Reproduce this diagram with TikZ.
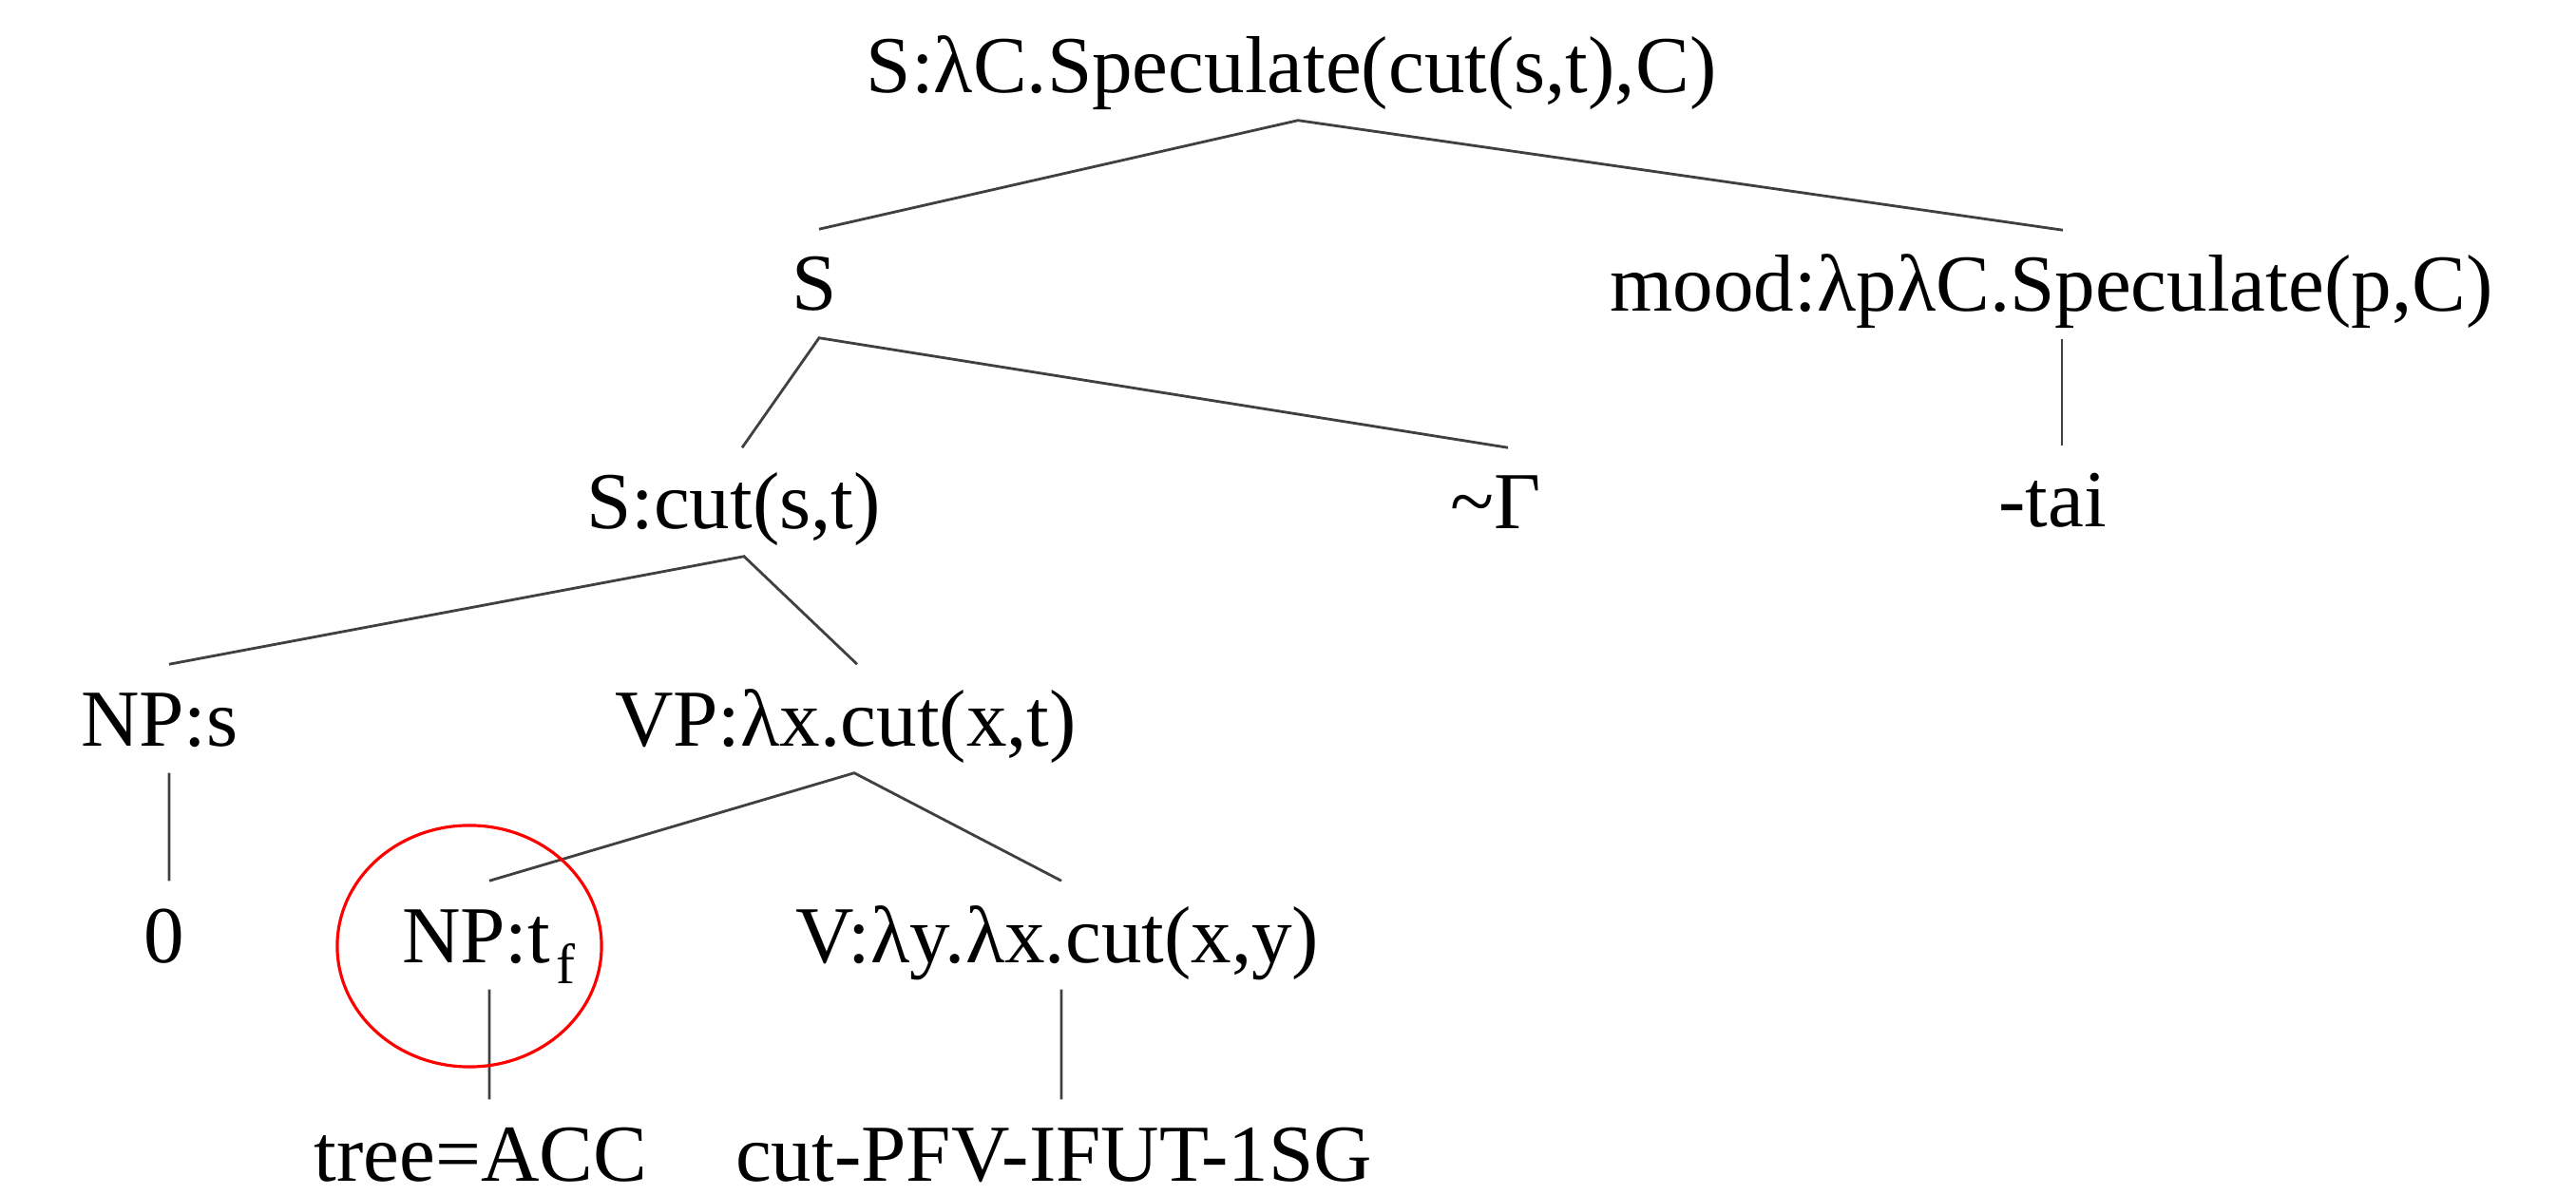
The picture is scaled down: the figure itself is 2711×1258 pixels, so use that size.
\documentclass[tikz,border=0pt]{standalone}
\usepackage{fontspec}
\setmainfont{Liberation Serif}
\begin{document}
\begin{tikzpicture}[x=0.01cm, y=-0.01cm,
  lbl/.style={anchor=base, inner xsep=0pt, inner ysep=0.06cm, text height=0.79cm, text depth=0.22cm, font=\fontsize{24.2pt}{29pt}\selectfont},
  edge/.style={draw=black!75, line width=0.8pt},
  hl/.style={draw=red, line width=0.9pt}]
\useasboundingbox (0,0) rectangle (2711,1258);
% nodes
\node[lbl] (root) at (1359,98) {S:λC.Speculate(cut(s,t),C)};
\node[lbl] (S) at (857,327) {S};
\node[lbl] (mood) at (2159,328) {mood:λpλC.Speculate(p,C)};
\node[lbl] (Scut) at (772,557) {S:cut(s,t)};
\node[lbl] (gam) at (1574,557) {\textasciitilde Γ};
\node[lbl] (tai) at (2160,555) {-tai};
\node[lbl] (NPs) at (168,785) {NP:s};
\node[lbl] (VP) at (890,785) {VP:λx.cut(x,t)};
\node[lbl] (zero) at (173,1013) {0};
\node[lbl] (NPt) at (514,1013) {NP:t\kern0.06cm\raisebox{-0.22cm}{\fontsize{17pt}{20pt}\selectfont f}};
\node[lbl] (V) at (1113,1013) {V:λy.λx.cut(x,y)};
\node[lbl] (tree) at (506,1243) {tree=ACC};
\node[lbl] (cutv) at (1109,1243) {cut-PFV-IFUT-1SG};
% connectors
\draw[edge] ([xshift=0.05cm]S.north) -- ([xshift=0.07cm]root.south) -- ([xshift=0.12cm]mood.north);
\draw[edge] ([xshift=0.09cm]Scut.north) -- ([xshift=0.05cm]S.south) -- ([xshift=0.13cm]gam.north);
\draw[edge] ([xshift=0.11cm]mood.south) -- ([xshift=0.10cm]tai.north);
\draw[edge] ([xshift=0.10cm]NPs.north) -- ([xshift=0.11cm]Scut.south) -- ([xshift=0.12cm]VP.north);
\draw[edge] ([xshift=0.10cm]NPs.south) -- ([xshift=0.05cm]zero.north);
\draw[edge] ([xshift=0.01cm]NPt.north) -- ([xshift=0.09cm]VP.south) -- ([xshift=0.04cm]V.north);
\draw[edge] ([xshift=0.01cm]NPt.south) -- ([xshift=0.09cm]tree.north);
\draw[edge] ([xshift=0.04cm]V.south) -- ([xshift=0.08cm]cutv.north);
% highlight
\draw[hl] ([xshift=-0.20cm,yshift=0.17cm]NPt.base) ellipse [x radius=1.39cm, y radius=1.27cm];
\end{tikzpicture}
\end{document}
